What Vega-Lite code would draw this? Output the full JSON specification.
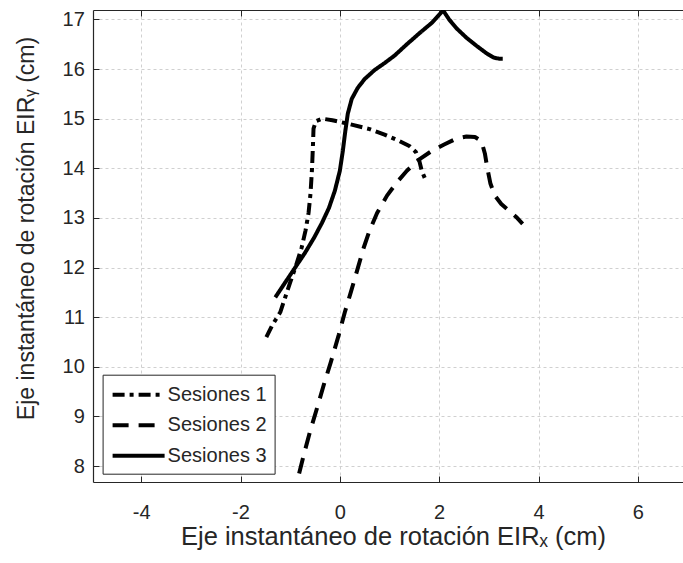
{
  "$schema": "https://vega.github.io/schema/vega-lite/v6.json",
  "autosize": {"type": "none"},
  "padding": {"left": 93, "top": 10, "right": 0, "bottom": 81},
  "width": 596,
  "height": 472,
  "background": "white",
  "config": {
    "view": {"stroke": null},
    "font": "Liberation Sans",
    "axis": {
      "domainColor": "#262626",
      "tickColor": "#262626",
      "labelColor": "#262626",
      "titleColor": "#262626",
      "labelFont": "Liberation Sans",
      "titleFont": "Liberation Sans",
      "labelFontSize": 20,
      "titleFontSize": 24,
      "titleFontWeight": "normal",
      "gridColor": "#d0d0d0",
      "gridDash": [3, 3],
      "gridWidth": 1,
      "tickSize": -6,
      "tickWidth": 1,
      "domainWidth": 1.2,
      "labelFlush": false,
      "labelOverlap": false
    },
    "legend": {
      "labelFont": "Liberation Sans",
      "labelFontSize": 20,
      "labelColor": "#262626"
    }
  },
  "data": {
    "values": [
      {"s": "Sesiones 1", "i": 1, "x": -1.48, "y": 10.60},
      {"s": "Sesiones 1", "i": 2, "x": -1.43, "y": 10.70},
      {"s": "Sesiones 1", "i": 3, "x": -1.36, "y": 10.84},
      {"s": "Sesiones 1", "i": 4, "x": -1.28, "y": 10.97},
      {"s": "Sesiones 1", "i": 5, "x": -1.20, "y": 11.10},
      {"s": "Sesiones 1", "i": 6, "x": -1.10, "y": 11.40},
      {"s": "Sesiones 1", "i": 7, "x": -1.00, "y": 11.70},
      {"s": "Sesiones 1", "i": 8, "x": -0.88, "y": 12.05},
      {"s": "Sesiones 1", "i": 9, "x": -0.77, "y": 12.40},
      {"s": "Sesiones 1", "i": 10, "x": -0.69, "y": 12.75},
      {"s": "Sesiones 1", "i": 11, "x": -0.63, "y": 13.10},
      {"s": "Sesiones 1", "i": 12, "x": -0.59, "y": 13.50},
      {"s": "Sesiones 1", "i": 13, "x": -0.56, "y": 14.00},
      {"s": "Sesiones 1", "i": 14, "x": -0.54, "y": 14.50},
      {"s": "Sesiones 1", "i": 15, "x": -0.53, "y": 14.80},
      {"s": "Sesiones 1", "i": 16, "x": -0.48, "y": 14.95},
      {"s": "Sesiones 1", "i": 17, "x": -0.35, "y": 15.00},
      {"s": "Sesiones 1", "i": 18, "x": -0.15, "y": 14.97},
      {"s": "Sesiones 1", "i": 19, "x": 0.20, "y": 14.89},
      {"s": "Sesiones 1", "i": 20, "x": 0.60, "y": 14.79},
      {"s": "Sesiones 1", "i": 21, "x": 0.90, "y": 14.68},
      {"s": "Sesiones 1", "i": 22, "x": 1.20, "y": 14.55},
      {"s": "Sesiones 1", "i": 23, "x": 1.40, "y": 14.45},
      {"s": "Sesiones 1", "i": 24, "x": 1.53, "y": 14.33},
      {"s": "Sesiones 1", "i": 25, "x": 1.60, "y": 14.15},
      {"s": "Sesiones 1", "i": 26, "x": 1.65, "y": 13.95},
      {"s": "Sesiones 1", "i": 27, "x": 1.72, "y": 13.78},
      {"s": "Sesiones 2", "i": 1, "x": -0.82, "y": 7.85},
      {"s": "Sesiones 2", "i": 2, "x": -0.72, "y": 8.25},
      {"s": "Sesiones 2", "i": 3, "x": -0.60, "y": 8.70},
      {"s": "Sesiones 2", "i": 4, "x": -0.45, "y": 9.20},
      {"s": "Sesiones 2", "i": 5, "x": -0.32, "y": 9.65},
      {"s": "Sesiones 2", "i": 6, "x": -0.18, "y": 10.10},
      {"s": "Sesiones 2", "i": 7, "x": -0.02, "y": 10.65},
      {"s": "Sesiones 2", "i": 8, "x": 0.10, "y": 11.10},
      {"s": "Sesiones 2", "i": 9, "x": 0.22, "y": 11.50},
      {"s": "Sesiones 2", "i": 10, "x": 0.35, "y": 11.95},
      {"s": "Sesiones 2", "i": 11, "x": 0.48, "y": 12.40},
      {"s": "Sesiones 2", "i": 12, "x": 0.60, "y": 12.75},
      {"s": "Sesiones 2", "i": 13, "x": 0.75, "y": 13.10},
      {"s": "Sesiones 2", "i": 14, "x": 0.95, "y": 13.45},
      {"s": "Sesiones 2", "i": 15, "x": 1.15, "y": 13.72},
      {"s": "Sesiones 2", "i": 16, "x": 1.35, "y": 13.95},
      {"s": "Sesiones 2", "i": 17, "x": 1.60, "y": 14.18},
      {"s": "Sesiones 2", "i": 18, "x": 1.85, "y": 14.35},
      {"s": "Sesiones 2", "i": 19, "x": 2.10, "y": 14.48},
      {"s": "Sesiones 2", "i": 20, "x": 2.35, "y": 14.60},
      {"s": "Sesiones 2", "i": 21, "x": 2.55, "y": 14.64},
      {"s": "Sesiones 2", "i": 22, "x": 2.72, "y": 14.63},
      {"s": "Sesiones 2", "i": 23, "x": 2.85, "y": 14.55},
      {"s": "Sesiones 2", "i": 24, "x": 2.92, "y": 14.30},
      {"s": "Sesiones 2", "i": 25, "x": 2.97, "y": 14.00},
      {"s": "Sesiones 2", "i": 26, "x": 3.03, "y": 13.70},
      {"s": "Sesiones 2", "i": 27, "x": 3.12, "y": 13.45},
      {"s": "Sesiones 2", "i": 28, "x": 3.25, "y": 13.28},
      {"s": "Sesiones 2", "i": 29, "x": 3.40, "y": 13.15},
      {"s": "Sesiones 2", "i": 30, "x": 3.55, "y": 13.02},
      {"s": "Sesiones 2", "i": 31, "x": 3.68, "y": 12.88},
      {"s": "Sesiones 3", "i": 1, "x": -1.30, "y": 11.40},
      {"s": "Sesiones 3", "i": 2, "x": -1.10, "y": 11.70},
      {"s": "Sesiones 3", "i": 3, "x": -0.90, "y": 12.00},
      {"s": "Sesiones 3", "i": 4, "x": -0.70, "y": 12.30},
      {"s": "Sesiones 3", "i": 5, "x": -0.52, "y": 12.60},
      {"s": "Sesiones 3", "i": 6, "x": -0.36, "y": 12.90},
      {"s": "Sesiones 3", "i": 7, "x": -0.22, "y": 13.20},
      {"s": "Sesiones 3", "i": 8, "x": -0.10, "y": 13.55},
      {"s": "Sesiones 3", "i": 9, "x": 0.00, "y": 13.95},
      {"s": "Sesiones 3", "i": 10, "x": 0.06, "y": 14.35},
      {"s": "Sesiones 3", "i": 11, "x": 0.11, "y": 14.75},
      {"s": "Sesiones 3", "i": 12, "x": 0.16, "y": 15.10},
      {"s": "Sesiones 3", "i": 13, "x": 0.24, "y": 15.40},
      {"s": "Sesiones 3", "i": 14, "x": 0.36, "y": 15.62},
      {"s": "Sesiones 3", "i": 15, "x": 0.50, "y": 15.80},
      {"s": "Sesiones 3", "i": 16, "x": 0.70, "y": 15.98},
      {"s": "Sesiones 3", "i": 17, "x": 0.90, "y": 16.12},
      {"s": "Sesiones 3", "i": 18, "x": 1.10, "y": 16.27},
      {"s": "Sesiones 3", "i": 19, "x": 1.35, "y": 16.50},
      {"s": "Sesiones 3", "i": 20, "x": 1.60, "y": 16.72},
      {"s": "Sesiones 3", "i": 21, "x": 1.85, "y": 16.93},
      {"s": "Sesiones 3", "i": 22, "x": 2.08, "y": 17.18},
      {"s": "Sesiones 3", "i": 23, "x": 2.20, "y": 17.00},
      {"s": "Sesiones 3", "i": 24, "x": 2.35, "y": 16.82},
      {"s": "Sesiones 3", "i": 25, "x": 2.55, "y": 16.63},
      {"s": "Sesiones 3", "i": 26, "x": 2.75, "y": 16.47},
      {"s": "Sesiones 3", "i": 27, "x": 2.95, "y": 16.32},
      {"s": "Sesiones 3", "i": 28, "x": 3.10, "y": 16.23},
      {"s": "Sesiones 3", "i": 29, "x": 3.20, "y": 16.21},
      {"s": "Sesiones 3", "i": 30, "x": 3.28, "y": 16.21}
    ]
  },
  "layer": [
    {
      "mark": {"type": "line", "color": "black", "strokeWidth": 4, "strokeCap": "butt", "strokeJoin": "round", "clip": true},
      "encoding": {
        "x": {
          "field": "x", "type": "quantitative",
          "scale": {"domain": [-4.97, 7.03], "nice": false, "zero": false},
          "axis": {
            "values": [-4, -2, 0, 2, 4, 6],
            "labelExpr": "datum.value + ''",
            "title": "Eje instantáneo de rotación EIRₓ (cm)",
            "titleFontSize": 25.5,
            "labelPadding": 42,
            "labelBaseline": "alphabetic",
            "titleBaseline": "alphabetic",
            "titleX": 300,
            "titleY": 62
          }
        },
        "y": {
          "field": "y", "type": "quantitative",
          "scale": {"domain": [7.68, 17.19], "nice": false, "zero": false},
          "axis": {
            "values": [8, 9, 10, 11, 12, 13, 14, 15, 16, 17],
            "title": "Eje instantáneo de rotación EIRᵧ (cm)",
            "titleFontSize": 23,
            "labelPadding": 14.7,
            "titleBaseline": "alphabetic",
            "titleAngle": -90,
            "titleX": -60,
            "titleY": 218
          }
        },
        "strokeDash": {
          "field": "s", "type": "nominal",
          "scale": {"domain": ["Sesiones 1", "Sesiones 2", "Sesiones 3"], "range": [[12, 5, 4, 5], [16, 10], [1, 0]]},
          "legend": {
            "title": null,
            "orient": "none",
            "legendX": 9.6,
            "legendY": 364.7,
            "strokeColor": "#262626",
            "fillColor": "white",
            "padding": 8,
            "rowPadding": 8.5,
            "symbolType": "M-1,0H4.2",
            "symbolSize": 400,
            "symbolStrokeWidth": 4,
            "symbolStrokeColor": "black",
            "labelOffset": 33,
            "labelLimit": 300
          }
        },
        "order": {"field": "i", "type": "quantitative"}
      }
    },
    {
      "mark": {"type": "point", "opacity": 0},
      "encoding": {
        "x": {
          "field": "x", "type": "quantitative",
          "axis": {"orient": "top", "values": [-4, -2, 0, 2, 4, 6], "labels": false, "title": null, "grid": false}
        },
        "y": {"field": "y", "type": "quantitative", "axis": null}
      }
    }
  ],
  "resolve": {"axis": {"x": "independent", "y": "independent"}}
}
